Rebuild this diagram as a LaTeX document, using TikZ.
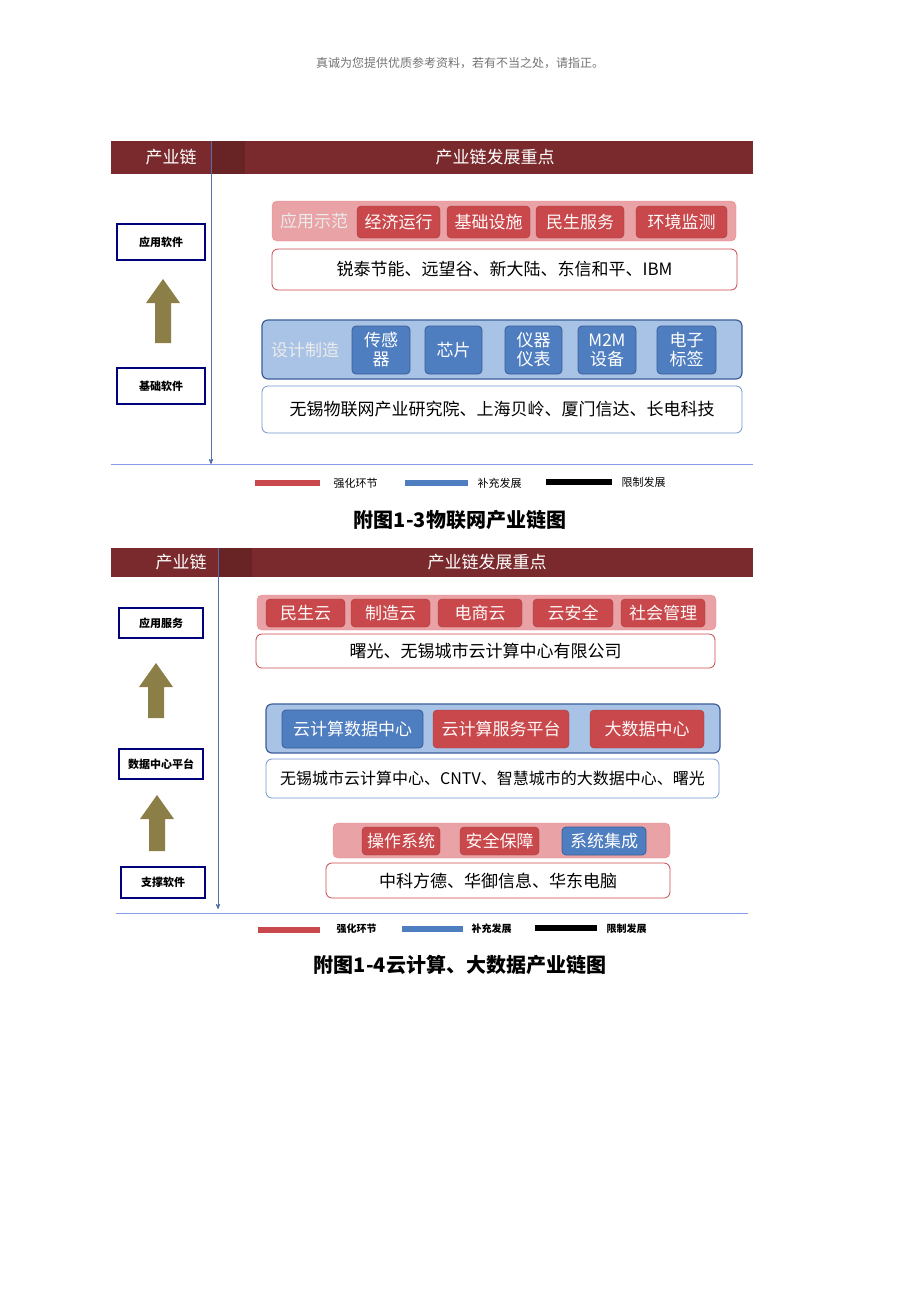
\documentclass[tikz,border=0pt]{standalone}
\usepackage{fontspec}
\setmainfont{Noto Sans CJK SC}
\usetikzlibrary{arrows,positioning,calc}
\definecolor{barred}{HTML}{7A2A2C}
\definecolor{cellred}{HTML}{C9484B}
\definecolor{cellpink}{HTML}{E9A2A6}
\definecolor{cellblue}{HTML}{4F7EC0}
\definecolor{bandblue}{HTML}{A9C3E6}
\definecolor{edgeblue}{HTML}{3B5E98}
\definecolor{olive}{HTML}{8C7E47}
\definecolor{axisblue}{HTML}{5570A8}
\tikzset{
  >=stealth',
  head/.style={fill=barred, draw=none},
  headtext/.style={text=white, font=\fontsize{17}{19}\selectfont},
  level/.style={draw=black!20!blue!60!black, very thick, fill=white, font=\fontsize{11}{13}\selectfont\bfseries},
  band/.style={rounded corners=5pt, fill=cellpink, draw=cellpink!85!red},
  bandb/.style={rounded corners=6pt, fill=bandblue, draw=edgeblue, very thick},
  cell/.style={rounded corners=4pt, fill=cellred, draw=cellred!80!black, text=white!90!pink, font=\fontsize{17}{19}\selectfont, align=center},
  cellb/.style={rounded corners=4pt, fill=cellblue, draw=edgeblue, thick, text=white, font=\fontsize{17}{19}\selectfont, align=center},
  firms/.style={rounded corners=6pt, fill=white, draw=cellred, thick, font=\fontsize{17}{19}\selectfont},
  firmsb/.style={rounded corners=6pt, fill=white, draw=cellblue!80!white, thick, font=\fontsize{17}{19}\selectfont},
  tag/.style={text=white!92!black, font=\fontsize{17}{19}\selectfont},
  key/.style={font=\fontsize{11}{13}\selectfont, anchor=west},
  growth/.style={fill=olive, draw=none},
  caption/.style={font=\fontsize{20}{22}\selectfont\bfseries}
}
% box given by its corners
\newcommand{\boxat}[7]{\node[#1, inner sep=0pt, minimum width={#5pt-#3pt}, minimum height={#6pt-#4pt}] (#2) at ({(#3+#5)/2},{(#4+#6)/2}) {#7};}
\newcommand{\upar}[3]{\fill[growth] (#1-8,#3) -- (#1-8,#2+24) -- (#1-17,#2+24) -- (#1,#2) -- (#1+17,#2+24) -- (#1+8,#2+24) -- (#1+8,#3) -- cycle;}
\begin{document}
\begin{tikzpicture}[x=1pt,y=-1pt]
\useasboundingbox (0,0) rectangle (920,1302);
\node[text=black!55, font=\fontsize{12}{14}\selectfont] (note) at (460,63) {真诚为您提供优质参考资料，若有不当之处，请指正。};

% first chain
\boxat{head}{bar1}{111}{141}{753}{174}{}
\fill[barred!85!black] (211,141) rectangle (245,174);
\node[headtext] (h1a) at (171,157) {产业链};
\node[headtext] (h1b) at (495,157) {产业链发展重点};
\coordinate (a1top) at (211,141);
\coordinate (a1bot) at (211,464);
\draw[->, axisblue, thick] (a1top) -- (a1bot);
\boxat{level}{l1a}{117}{224}{205}{260}{应用软件}
\boxat{level}{l1b}{117}{368}{205}{404}{基础软件}
\upar{163}{279}{343}
\boxat{band}{b1}{272}{201}{736}{241}{}
\node[tag] (t1) at (314,221) {应用示范};
\boxat{cell}{c11}{357}{206}{440}{238}{经济运行}
\boxat{cell}{c12}{447}{206}{530}{238}{基础设施}
\boxat{cell}{c13}{536}{206}{624}{238}{民生服务}
\boxat{cell}{c14}{636}{206}{727}{238}{环境监测}
\boxat{firms}{f11}{272}{249}{737}{290}{锐泰节能、远望谷、新大陆、东信和平、IBM}
\boxat{bandb}{b2}{262}{320}{742}{379}{}
\node[tag] (t2) at (305,350) {设计制造};
\boxat{cellb}{c21}{352}{326}{410}{374}{传感\\器}
\boxat{cellb}{c22}{425}{326}{482}{374}{芯片}
\boxat{cellb}{c23}{505}{326}{562}{374}{仪器\\仪表}
\boxat{cellb}{c24}{578}{326}{636}{374}{M2M\\设备}
\boxat{cellb}{c25}{657}{326}{716}{374}{电子\\标签}
\boxat{firmsb}{f12}{262}{386}{742}{433}{无锡物联网产业研究院、上海贝岭、厦门信达、长电科技}
\draw[bandblue!80!blue] (111,464) -- (753,464);
\fill[cellred] (255,480) rectangle (320,486);
\node[key] (k11) at (330,483) {强化环节};
\fill[cellblue] (405,480) rectangle (468,486);
\node[key] (k12) at (474,483) {补充发展};
\fill[black] (546,479) rectangle (612,485);
\node[key] (k13) at (618,482) {限制发展};
\node[caption] (cap1) at (460,520) {附图1-3物联网产业链图};

% second chain
\boxat{head}{bar2}{111}{548}{753}{577}{}
\fill[barred!85!black] (218,548) rectangle (252,577);
\node[headtext] (h2a) at (181,562) {产业链};
\node[headtext] (h2b) at (487,562) {产业链发展重点};
\coordinate (a2top) at (218,548);
\coordinate (a2bot) at (218,909);
\draw[->, axisblue, thick] (a2top) -- (a2bot);
\boxat{level}{l2a}{119}{608}{203}{638}{应用服务}
\boxat{level}{l2b}{119}{749}{203}{779}{数据中心平台}
\boxat{level}{l2c}{121}{867}{205}{898}{支撑软件}
\upar{156}{663}{718}
\upar{157}{795}{851}
\boxat{band}{b3}{257}{595}{716}{630}{}
\boxat{cell}{c31}{266}{599}{345}{627}{民生云}
\boxat{cell}{c32}{351}{599}{430}{627}{制造云}
\boxat{cell}{c33}{438}{599}{522}{627}{电商云}
\boxat{cell}{c34}{533}{599}{613}{627}{云安全}
\boxat{cell}{c35}{621}{599}{705}{627}{社会管理}
\boxat{firms}{f21}{256}{634}{715}{668}{曙光、无锡城市云计算中心有限公司}
\boxat{bandb}{b4}{266}{704}{720}{753}{}
\boxat{cellb}{c41}{282}{710}{423}{748}{云计算数据中心}
\boxat{cell}{c42}{433}{710}{569}{748}{云计算服务平台}
\boxat{cell}{c43}{590}{710}{704}{748}{大数据中心}
\boxat{firmsb}{f22}{266}{759}{719}{798}{\fontsize{16}{18}\selectfont 无锡城市云计算中心、CNTV、智慧城市的大数据中心、曙光}
\boxat{band}{b5}{333}{823}{670}{858}{}
\boxat{cell}{c51}{362}{827}{440}{855}{操作系统}
\boxat{cell}{c52}{460}{827}{539}{855}{安全保障}
\boxat{cellb}{c53}{562}{827}{646}{855}{系统集成}
\boxat{firms}{f23}{326}{863}{670}{898}{中科方德、华御信息、华东电脑}
\draw[bandblue!80!blue] (116,913) -- (748,913);
\fill[cellred] (258,927) rectangle (320,933);
\node[key, font=\fontsize{10}{12}\selectfont\bfseries] (k21) at (333,929) {强化环节};
\fill[cellblue] (402,926) rectangle (463,932);
\node[key, font=\fontsize{10}{12}\selectfont\bfseries] (k22) at (468,929) {补充发展};
\fill[black] (535,925) rectangle (597,931);
\node[key, font=\fontsize{10}{12}\selectfont\bfseries] (k23) at (603,929) {限制发展};
\node[caption] (cap2) at (460,965) {附图1-4云计算、大数据产业链图};
\end{tikzpicture}
\end{document}
